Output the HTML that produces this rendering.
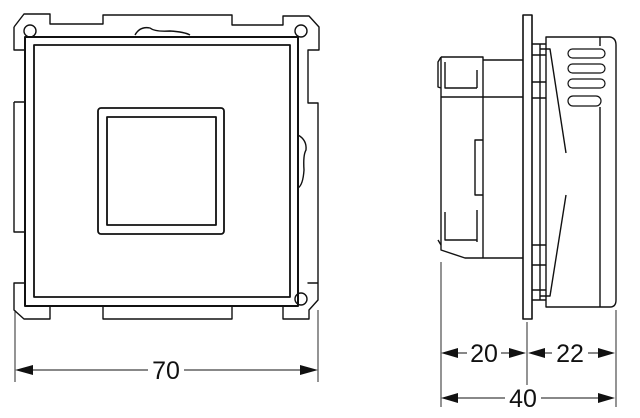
<!DOCTYPE html>
<html><head><style>html,body{margin:0;padding:0;background:#fff}svg{display:block}</style></head><body>
<svg width="640" height="418" viewBox="0 0 640 418" xmlns="http://www.w3.org/2000/svg" fill="none" stroke="#111" stroke-width="1.4" stroke-linejoin="round">
<path d="M14,27 L24,14 L50,14 L50,24 L103,24 L103,15 L232,15 L232,25 L283,25 L283,16 L309,16 L319,27 L319,50 L308,50 L308,103 L318,103 L318,283 L308,283 L309,283 L318,283 L318,300 L309,310 L309,319 L283,319 L283,306 M232,306 L232,319 L103,319 L103,306 M50,306 L50,319 L24,319 L14,310 L14,283 L25,283"/>
<path d="M14,27 L14,50 L25,50"/>
<path d="M14,102 L25,102 M14,102 L14,232 L25,232"/>
<circle cx="30" cy="31" r="6"/><circle cx="301" cy="31" r="6"/><circle cx="301" cy="299" r="6"/>
<path d="M135,35 Q140,26 150,28 Q155,32 170,31 Q185,32 190,35"/>
<path d="M298,135 Q307,140 306,150 Q303,155 304,170 Q303,185 298,188"/>
<rect x="25" y="37" width="273" height="269" stroke-width="2"/>
<rect x="34" y="45" width="256" height="252" stroke-width="1.8"/>
<rect x="98" y="108" width="126" height="126" rx="3" stroke-width="1.8"/>
<rect x="107" y="117" width="109" height="108" stroke-width="1.8"/>
<g stroke-width="0.9"><path d="M15,310 L15,382 M318,310 L318,382 M30,370 L148,370 M184,370 L303,370"/></g>
<g fill="#111" stroke="none"><path d="M15,370 L33,365 L33,375Z"/><path d="M318,370 L300,365 L300,375Z"/></g>
<rect x="523" y="15" width="9" height="304" stroke-width="1.6"/>
<path d="M441,57 L483,57 L483,60 L523,60 M441,57 L441,250 L465,258 L523,258 M483,60 L483,258 M441,97 L523,97 M445,62 L445,88 L477,88 M477,70 L477,88 M445,212 L445,240 L477,240 M477,210 L477,242 M483,140 L475,140 L475,195 L483,195"/>
<path d="M441,57 L438,62 L438,87 L441,88 M441,245 L438,240"/>
<path d="M546,37 L610,37 Q616,38 616,45 L616,300 Q616,307 610,307 L546,307 Z M600,107 L600,307 M600,37 L600,46"/>
<path d="M532,44 L546,44 M532,300 L546,300 M532,55 L546,55 M532,82 L546,82 M532,98 L546,98 M532,245 L546,245 M532,265 L546,265 M532,290 L546,290 M540,44 L540,300"/>
<path d="M540,49 L550,49 L566,153 M540,296 L550,296 L566,195"/>
<g stroke-width="1.2" fill="#fff"><rect x="568" y="49" width="37" height="9" rx="4.5"/><rect x="568" y="64" width="37" height="9" rx="4.5"/><rect x="568" y="79" width="37" height="9" rx="4.5"/><rect x="568" y="96" width="33" height="10" rx="5"/></g>
<g stroke-width="0.9"><path d="M441,262 L441,407 M527,322 L527,385 M616,310 L616,407 M452,353 L467,353 M501,353 L512,353 M538,353 L552,353 M588,353 L605,353 M452,398 L505,398 M541,398 L605,398"/></g>
<g fill="#111" stroke="none"><path d="M441,353 L458,348 L458,358Z"/><path d="M526,353 L509,348 L509,358Z"/><path d="M528,353 L545,348 L545,358Z"/><path d="M615,353 L598,348 L598,358Z"/><path d="M441,398 L458,393 L458,403Z"/><path d="M615,398 L598,393 L598,403Z"/></g>
<g fill="#111" stroke="none" font-family="Liberation Sans, sans-serif" font-size="25" text-anchor="middle">
<text x="166" y="379">70</text><text x="484" y="362">20</text><text x="570" y="362">22</text><text x="523" y="407">40</text>
</g>
</svg>
</body></html>
